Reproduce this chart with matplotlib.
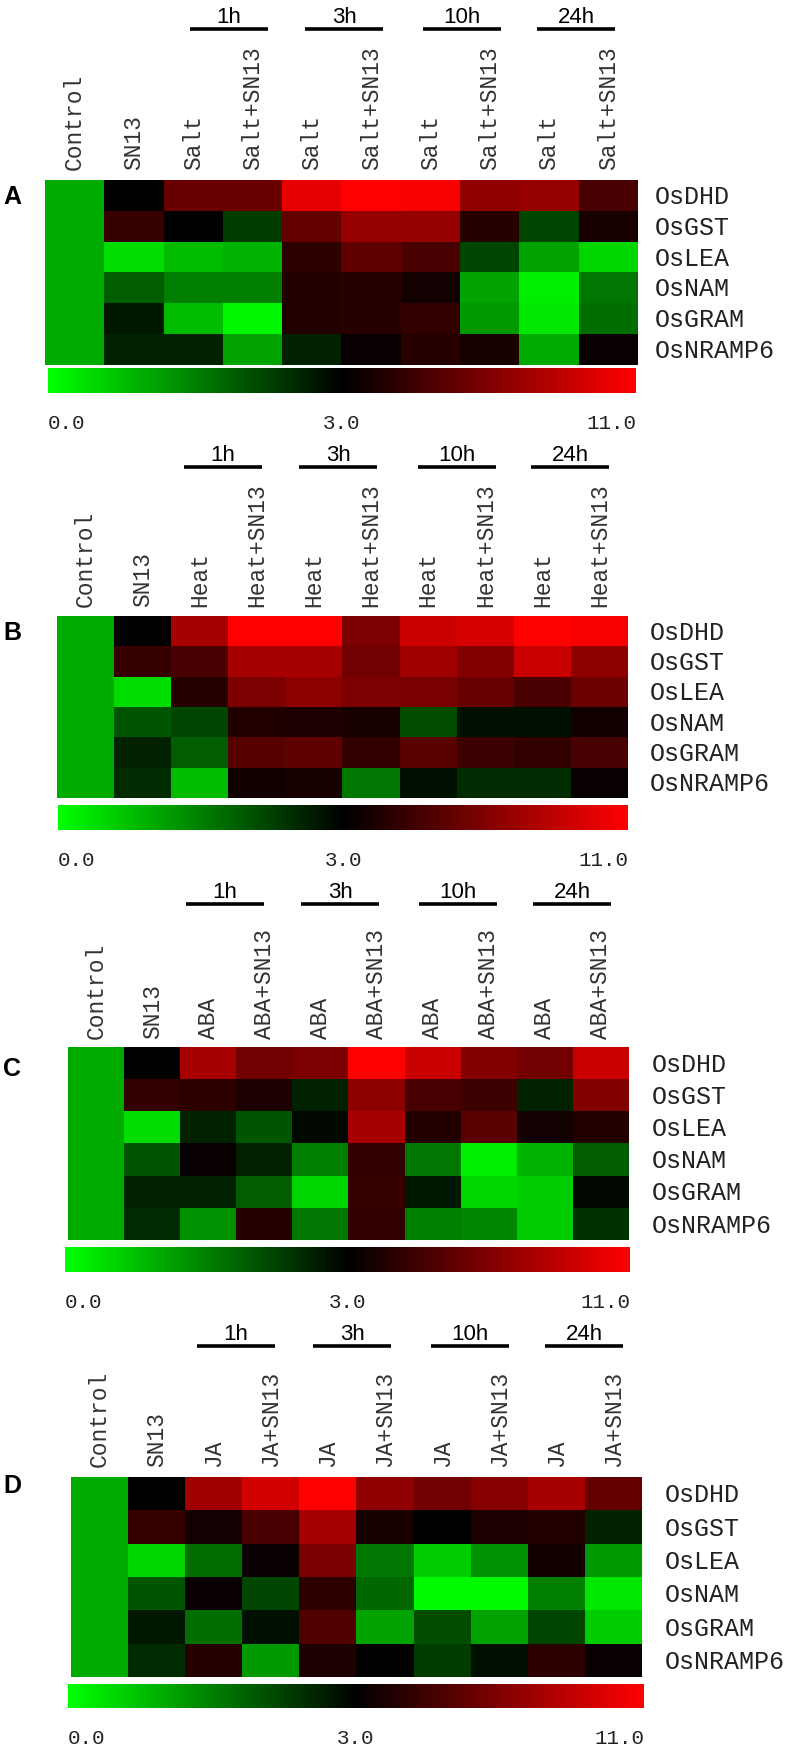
import numpy as np
import matplotlib
matplotlib.use("Agg")
import matplotlib.pyplot as plt
from matplotlib.colors import LinearSegmentedColormap, TwoSlopeNorm
from matplotlib.cm import ScalarMappable
from matplotlib.transforms import blended_transform_factory
from matplotlib.lines import Line2D

# ---------------- data ----------------
genes = ["OsDHD", "OsGST", "OsLEA", "OsNAM", "OsGRAM", "OsNRAMP6"]
time_points = ["1h", "3h", "10h", "24h"]
panel_letters = ["A", "B", "C", "D"]
treatments = ["Salt", "Heat", "ABA", "JA"]
cbar_ticks = [0.0, 3.0, 11.0]
cbar_ticklabels = ["0.0", "3.0", "11.0"]

# columns: Control, SN13, T1h, T1h+SN13, T3h, T3h+SN13, T10h, T10h+SN13, T24h, T24h+SN13
salt_values = [
    [1.0, 3.1, 6.3, 6.3, 10.2, 11.0, 10.7, 7.5, 7.7, 5.2],
    [1.0, 4.7, 3.1, 2.3, 6.1, 7.7, 7.7, 4.2, 2.2, 3.8],
    [1.0, 0.4, 0.8, 0.9, 4.4, 6.0, 5.3, 2.2, 1.1, 0.5],
    [1.0, 1.9, 1.5, 1.5, 4.1, 4.2, 3.6, 1.1, 0.2, 1.6],
    [1.0, 2.7, 0.8, 0.1, 4.1, 4.2, 4.6, 1.2, 0.3, 1.7],
    [1.0, 2.6, 2.6, 1.1, 2.6, 3.3, 4.2, 3.8, 1.0, 3.3],
]
heat_values = [
    [1.0, 3.1, 8.3, 11.0, 11.0, 6.9, 9.4, 9.7, 10.9, 10.7],
    [1.0, 4.7, 5.3, 8.2, 8.2, 6.6, 8.0, 7.1, 9.3, 7.4],
    [1.0, 0.4, 4.2, 6.9, 7.4, 6.9, 6.8, 6.3, 5.3, 6.4],
    [1.0, 2.0, 2.2, 4.1, 3.9, 3.8, 2.1, 2.8, 2.8, 3.5],
    [1.0, 2.6, 1.9, 5.7, 6.0, 4.6, 5.8, 4.9, 4.6, 5.3],
    [1.0, 2.5, 0.8, 3.5, 3.8, 1.6, 2.8, 2.5, 2.5, 3.3],
]
aba_values = [
    [1.0, 3.0, 8.3, 6.6, 6.9, 11.0, 9.3, 7.1, 6.6, 9.3],
    [1.0, 4.6, 4.4, 3.9, 2.6, 7.4, 5.3, 4.9, 2.6, 7.1],
    [1.0, 0.4, 2.6, 2.0, 2.9, 8.3, 4.1, 5.8, 3.6, 4.1],
    [1.0, 2.0, 3.3, 2.6, 1.5, 4.6, 1.6, 0.2, 0.9, 1.9],
    [1.0, 2.6, 2.6, 1.9, 0.5, 4.7, 2.7, 0.5, 0.6, 2.9],
    [1.0, 2.5, 1.3, 4.2, 1.6, 4.6, 1.5, 1.4, 0.6, 2.4],
]
ja_values = [
    [1.0, 3.0, 8.0, 9.6, 11.0, 7.5, 6.6, 7.2, 8.3, 6.1],
    [1.0, 4.7, 3.6, 5.3, 8.3, 3.8, 3.05, 3.9, 4.1, 2.6],
    [1.0, 0.5, 1.7, 3.3, 6.8, 1.6, 0.6, 1.3, 3.5, 1.2],
    [1.0, 2.0, 3.3, 2.2, 4.4, 1.8, 0.05, 0.05, 1.5, 0.3],
    [1.0, 2.7, 1.7, 2.8, 5.5, 1.1, 2.1, 1.1, 2.2, 0.6],
    [1.0, 2.5, 4.2, 1.2, 3.9, 3.0, 2.3, 2.8, 4.4, 3.3],
]
panel_values = [salt_values, heat_values, aba_values, ja_values]

# ---------------- styling / layout (pixels) ----------------
W, H = 787, 1750
fig = plt.figure(figsize=(W / 100, H / 100), dpi=100)
fig.patch.set_facecolor("white")

cmap = LinearSegmentedColormap.from_list("gbr", [(0, 1, 0), (0, 0, 0), (1, 0, 0)])
norm = TwoSlopeNorm(vmin=0.0, vcenter=3.0, vmax=11.0)

layouts = [
    dict(heat=(45, 180, 638, 365), cbar=(48, 368, 636, 393), bar_y=29,
         bars=[190, 305, 423, 537], col_bottom=170, letter_y=197, row_x=655),
    dict(heat=(57, 616, 628, 798), cbar=(58, 805, 628, 830), bar_y=467,
         bars=[184, 299, 418, 531], col_bottom=607, letter_y=633, row_x=650),
    dict(heat=(68, 1047, 629, 1240), cbar=(65, 1247, 630, 1272), bar_y=904,
         bars=[186, 301, 419, 533], col_bottom=1039, letter_y=1069, row_x=652),
    dict(heat=(71, 1477, 642, 1677), cbar=(68, 1684, 644, 1708), bar_y=1346,
         bars=[197, 313, 431, 545], col_bottom=1467, letter_y=1486, row_x=665),
]
BAR_LEN = 78
MONO = "Liberation Mono"
SANS = "Liberation Sans"


def fx(px):
    return px / W


def fy(py):
    return 1 - py / H


def add_ax(box):
    x0, y0, x1, y1 = box
    return fig.add_axes([fx(x0), fy(y1), (x1 - x0) / W, (y1 - y0) / H])


for p in range(4):
    lay = layouts[p]
    vals = np.array(panel_values[p])
    t = treatments[p]
    col_labels = ["Control", "SN13"]
    for tp in time_points:
        col_labels += [t, t + "+SN13"]

    ax = add_ax(lay["heat"])
    ax.imshow(vals, cmap=cmap, norm=norm, aspect="auto", interpolation="nearest",
              extent=(0, vals.shape[1], vals.shape[0], 0))
    ax.set_xlim(0, vals.shape[1])
    ax.set_ylim(vals.shape[0], 0)
    ax.set_axis_off()

    # column labels (rotated)
    tr = blended_transform_factory(ax.transData, fig.transFigure)
    for i, lab in enumerate(col_labels):
        ax.text(i + 0.5, fy(lay["col_bottom"]), lab, rotation=90, ha="center", va="bottom",
                transform=tr, fontsize=16.5, family=MONO, color="#333333")

    # row labels
    trr = blended_transform_factory(fig.transFigure, ax.transData)
    for r, g in enumerate(genes):
        ax.text(fx(lay["row_x"]), r + 0.55, g, ha="left", va="center", transform=trr,
                fontsize=18, family=MONO, color="#222222", clip_on=False)

    # time bars and labels
    for k, tp in enumerate(time_points):
        x0 = lay["bars"][k]
        fig.add_artist(Line2D([fx(x0), fx(x0 + BAR_LEN)], [fy(lay["bar_y"])] * 2,
                              transform=fig.transFigure, color="black", lw=2.6,
                              solid_capstyle="butt"))
        fig.text(fx(x0 + BAR_LEN / 2), fy(lay["bar_y"] - 6), tp, ha="center",
                 va="baseline", fontsize=16, family=SANS, color="black")

    # panel letter
    fig.text(fx(12), fy(lay["letter_y"]), panel_letters[p], ha="center", va="center",
             fontsize=18, fontweight="bold", family=SANS, color="black")

    # colour bar
    cax = add_ax(lay["cbar"])
    cb = fig.colorbar(ScalarMappable(norm=norm, cmap=cmap), cax=cax,
                      orientation="horizontal", ticks=cbar_ticks)
    cb.outline.set_visible(False)
    cax.set_xticklabels(cbar_ticklabels)
    cax.tick_params(axis="x", length=0, pad=15, labelsize=15)
    for lbl, ha in zip(cax.get_xticklabels(), ["left", "center", "right"]):
        lbl.set_ha(ha)
        lbl.set_family(MONO)
        lbl.set_color("#222222")

fig.savefig("out.png", dpi=100, facecolor="white")
